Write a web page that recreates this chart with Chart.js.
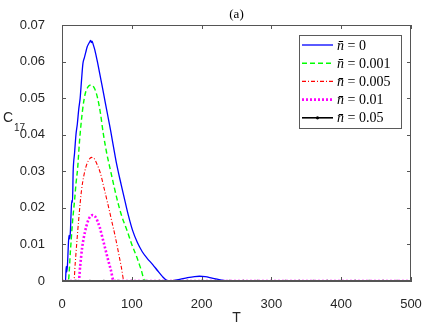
<!DOCTYPE html>
<html>
<head>
<meta charset="utf-8">
<script src="https://cdn.jsdelivr.net/npm/chart.js@4.4.0/dist/chart.umd.min.js"></script>
<style>
  body { margin: 0; background: #fff; }
  canvas { display: block; }
</style>
</head>
<body>
<canvas id="c17Chart" width="436" height="326"></canvas>
<script>
// valeurs (a)
const tBlue = [0, 5, 6, 7, 8, 9, 10, 11, 12, 13, 14, 15, 16, 18, 20, 22, 24, 26, 28, 30, 32, 34, 36, 38, 40, 41, 42, 43, 45, 47, 49, 51, 54, 57, 60, 62, 64, 67, 70, 73, 76, 78, 81, 84, 87, 91, 95, 101, 108, 115, 122, 130, 137, 144, 150, 155, 160, 170, 180, 190, 197, 205, 215, 225, 235, 245, 300, 400, 500];
const cBlue = [0, 0, 0.004, 0.0025, 0.005, 0.0095, 0.0125, 0.0115, 0.0135, 0.0185, 0.022, 0.0215, 0.03, 0.035, 0.04, 0.043, 0.047, 0.05, 0.055, 0.0595, 0.061, 0.0625, 0.064, 0.0648, 0.0655, 0.0658, 0.0652, 0.0656, 0.0645, 0.0632, 0.0615, 0.0597, 0.0568, 0.0538, 0.0508, 0.0488, 0.0468, 0.0438, 0.0408, 0.0375, 0.0343, 0.0322, 0.0295, 0.027, 0.0245, 0.0212, 0.018, 0.0139, 0.0105, 0.008, 0.0062, 0.0045, 0.0028, 0.0012, 0.0002, 0, 0.0001, 0.0005, 0.0009, 0.0012, 0.0013, 0.0012, 0.0008, 0.0004, 0.0001, 0, 0, 0, 0];

const tGreen = [0, 9, 12, 15, 18, 20, 22.5, 25, 29.5, 33, 37, 42, 47, 51, 55, 59, 64, 70, 75, 80, 86, 93, 100, 107, 113, 119, 500];
const cGreen = [0, 0, 0.008, 0.016, 0.022, 0.0265, 0.031, 0.038, 0.0468, 0.051, 0.053, 0.0536, 0.0525, 0.05, 0.046, 0.0405, 0.035, 0.0298, 0.0255, 0.0215, 0.0175, 0.0139, 0.01, 0.0066, 0.0033, 0, 0];

const tRed = [0, 17, 19, 21, 24, 28, 31, 34, 38, 42.5, 46, 50, 55, 60.5, 66, 71, 76, 81, 85, 89, 500];
const cRed = [0, 0, 0.005, 0.01, 0.017, 0.0249, 0.0285, 0.031, 0.033, 0.0338, 0.0335, 0.032, 0.0295, 0.0252, 0.0208, 0.0166, 0.0124, 0.0077, 0.0038, 0, 0];

const tMagenta = [0, 24, 26, 29, 33, 37, 41, 44, 48, 51, 54, 58, 62, 66, 70, 74, 500];
const cMagenta = [0, 0, 0.004, 0.0093, 0.0135, 0.0163, 0.0178, 0.018, 0.0175, 0.0163, 0.0147, 0.0118, 0.0088, 0.0058, 0.003, 0, 0];

const tBlack = [0, 20, 40, 60, 80, 100, 120, 140, 160, 180, 200, 220, 240, 260, 280, 300, 320, 340, 360, 380, 400, 420, 440, 460, 480, 500];
const cBlack = [0, 0, 0, 0, 0, 0, 0, 0, 0, 0, 0, 0, 0, 0, 0, 0, 0, 0, 0, 0, 0, 0, 0, 0, 0, 0];

const nbarLabels = ['0', '0.001', '0.005', '0.01', '0.05'];
const xTicks = [0, 100, 200, 300, 400, 500];
const yTicks = [0, 0.01, 0.02, 0.03, 0.04, 0.05, 0.06, 0.07];

const axisColor = '#555555';
const textColor = '#262626';

function toPoints(ts, cs) {
  return ts.map((t, i) => ({ x: t, y: cs[i] }));
}

// Légende, cadre, ticks intérieurs et titres (style MATLAB)
const matlabDecor = {
  id: 'matlabDecor',
  afterDraw(chart) {
    const ctx = chart.ctx;
    const area = chart.chartArea;
    const xs = chart.scales.x;
    const ys = chart.scales.y;
    ctx.save();

    // cadre
    ctx.strokeStyle = axisColor;
    ctx.lineWidth = 1;
    ctx.strokeRect(area.left + 0.5, area.top + 0.5, area.right - area.left - 1, area.bottom - area.top - 1);

    // ticks vers l'intérieur
    const tl = 4;
    ctx.beginPath();
    xTicks.forEach((v) => {
      const px = Math.round(xs.getPixelForValue(v)) + 0.5;
      ctx.moveTo(px, area.bottom); ctx.lineTo(px, area.bottom - tl);
      ctx.moveTo(px, area.top); ctx.lineTo(px, area.top + tl);
    });
    yTicks.forEach((v) => {
      const py = Math.round(ys.getPixelForValue(v)) + 0.5;
      ctx.moveTo(area.left, py); ctx.lineTo(area.left + tl, py);
      ctx.moveTo(area.right, py); ctx.lineTo(area.right - tl, py);
    });
    ctx.stroke();

    // titre (a)
    ctx.fillStyle = '#000';
    ctx.font = '13px "Liberation Serif", "DejaVu Serif", serif';
    ctx.textAlign = 'center';
    ctx.textBaseline = 'alphabetic';
    ctx.fillText('(a)', (area.left + area.right) / 2, 18);

    // titres des axes
    ctx.fillStyle = textColor;
    ctx.font = '14px "Liberation Sans", Arial, sans-serif';
    ctx.fillText('T', (area.left + area.right) / 2, 322);
    ctx.textAlign = 'left';
    ctx.fillText('C', 3, 122);
    ctx.font = '10px "Liberation Sans", Arial, sans-serif';
    ctx.fillText('17', 14, 131);

    // légende
    const lx = 299, ly = 35, lw = 102, lh = 93;
    ctx.fillStyle = '#fff';
    ctx.fillRect(lx, ly, lw, lh);
    ctx.strokeStyle = '#5a5a5a';
    ctx.strokeRect(lx + 0.5, ly + 0.5, lw, lh);
    chart.data.datasets.forEach((ds, i) => {
      const cy = ly + 10 + i * 18.2;
      ctx.save();
      ctx.strokeStyle = ds.borderColor;
      ctx.lineWidth = ds.borderWidth;
      ctx.setLineDash(ds.borderDash || []);
      ctx.beginPath();
      ctx.moveTo(lx + 3, cy);
      ctx.lineTo(lx + 34, cy);
      ctx.stroke();
      if (ds.pointRadius > 0) {
        ctx.fillStyle = ds.borderColor;
        ctx.beginPath();
        ctx.arc(lx + 18.5, cy, 1.6, 0, Math.PI * 2);
        ctx.fill();
      }
      ctx.restore();
      ctx.fillStyle = '#000';
      ctx.textAlign = 'left';
      ctx.textBaseline = 'middle';
      ctx.font = 'italic 14px "Liberation Serif", "DejaVu Serif", serif';
      ctx.fillText('n\u0304', lx + 38, cy + 1);
      ctx.font = '14px "Liberation Serif", "DejaVu Serif", serif';
      ctx.fillText(' = ' + nbarLabels[i], lx + 45, cy + 1);
    });

    ctx.restore();
  }
};

const ctx = document.getElementById('c17Chart').getContext('2d');
const chart = new Chart(ctx, {
  type: 'line',
  data: {
    datasets: [
      {
        label: 'n̄ = 0',
        data: toPoints(tBlue, cBlue),
        borderColor: '#0000ff',
        borderWidth: 1.3,
        pointRadius: 0,
        cubicInterpolationMode: 'monotone',
        order: 2,
      },
      {
        label: 'n̄ = 0.001',
        data: toPoints(tGreen, cGreen),
        borderColor: '#00ff00',
        borderWidth: 1.4,
        borderDash: [5, 3],
        pointRadius: 0,
        cubicInterpolationMode: 'monotone',
        order: 3,
      },
      {
        label: 'n̄ = 0.005',
        data: toPoints(tRed, cRed),
        borderColor: '#ff0000',
        borderWidth: 1.1,
        borderDash: [4, 2, 1, 2],
        pointRadius: 0,
        cubicInterpolationMode: 'monotone',
        order: 4,
      },
      {
        label: 'n̄ = 0.01',
        data: toPoints(tMagenta, cMagenta),
        borderColor: '#ff00ff',
        borderWidth: 2.6,
        borderDash: [2, 2],
        pointRadius: 0,
        cubicInterpolationMode: 'monotone',
        order: 5,
      },
      {
        label: 'n̄ = 0.05',
        data: toPoints(tBlack, cBlack),
        borderColor: '#000000',
        backgroundColor: '#000000',
        borderWidth: 1.6,
        pointRadius: 1.3,
        pointBorderWidth: 0,
        order: 1,
      },
    ]
  },
  options: {
    responsive: false,
    animation: false,
    layout: { padding: { left: 0, right: 25, top: 25, bottom: 0 } },
    plugins: {
      legend: { display: false },
      tooltip: { enabled: false },
    },
    elements: { line: { tension: 0, fill: false } },
    scales: {
      x: {
        type: 'linear',
        min: 0,
        max: 500,
        afterFit: (scale) => { scale.height = 45; },
        afterBuildTicks: (scale) => { scale.ticks = xTicks.map((v) => ({ value: v })); },
        grid: { display: false },
        border: { display: true, color: axisColor },
        ticks: {
          color: textColor,
          padding: 8,
          maxRotation: 0,
          font: { family: '"Liberation Sans", Arial, sans-serif', size: 13 },
        },
      },
      y: {
        min: 0,
        max: 0.07,
        afterFit: (scale) => { scale.width = 62; },
        afterBuildTicks: (scale) => { scale.ticks = yTicks.map((v) => ({ value: v })); },
        grid: { display: false },
        border: { display: true, color: axisColor },
        ticks: {
          color: textColor,
          padding: 9,
          font: { family: '"Liberation Sans", Arial, sans-serif', size: 13 },
          callback: (v) => String(Math.round(v * 100) / 100),
        },
      }
    }
  },
  plugins: [matlabDecor]
});
</script>
</body>
</html>
